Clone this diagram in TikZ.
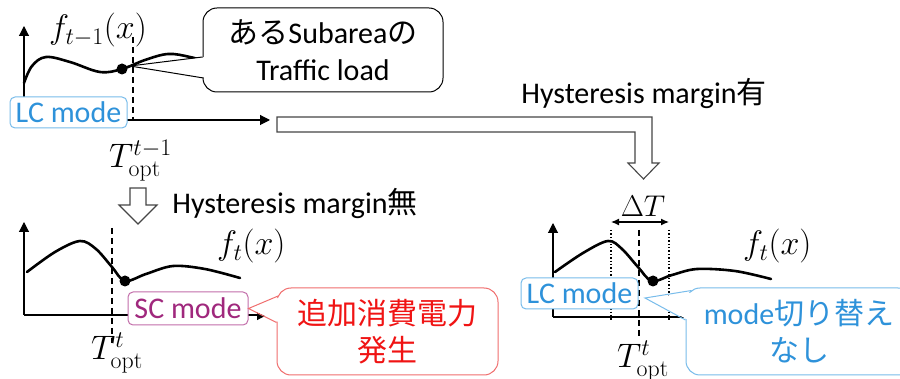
\RequirePackage{fix-cm}
\documentclass[tikz,border=0pt]{standalone}
\usepackage[no-math]{fontspec}
\setmainfont{Carlito}
\newfontfamily\jp{Noto Sans CJK JP}
\usetikzlibrary{arrows.meta,calc}

\definecolor{lcblue}{RGB}{46,146,218}
\definecolor{lcborder}{RGB}{120,188,235}
\definecolor{scpurple}{RGB}{160,40,125}
\definecolor{scborder}{RGB}{195,110,170}
\definecolor{alertred}{RGB}{240,20,20}
\definecolor{alertborder}{RGB}{240,110,110}
\definecolor{blockgray}{RGB}{70,70,70}

\tikzset{
  axis/.style={line width=1.1pt, -{Triangle[length=10pt,width=10pt]}},
  optline/.style={line width=1.4pt, dash pattern=on 6pt off 4pt},
  marginline/.style={line width=1.4pt, dotted},
  load/.style={line width=2.6pt, line cap=round, line join=round},
  optdot/.style={circle, fill=black, inner sep=0pt, minimum size=11pt},
  blockarrow/.style={draw=blockgray, line width=1.1pt, fill=white, line join=miter},
  modebox/.style={draw=#1, line width=1pt, fill=white, rounded corners=5pt,
    inner sep=0pt, font=\fontsize{30}{36}\selectfont},
  callout/.style={draw=#1, line width=1pt, fill=white, rounded corners=14pt,
    inner sep=0pt, align=center, font=\fontsize{30}{37}\selectfont},
  mathlabel/.style={inner sep=0pt, font=\fontsize{34}{40}\selectfont},
  deltalabel/.style={inner sep=0pt, font=\fontsize{30}{36}\selectfont},
  plain/.style={inner sep=0pt, font=\fontsize{30}{36}\selectfont},
}

\begin{document}
\begin{tikzpicture}[x=1pt, y=-1pt]
\clip (0,0) rectangle (900,379);
\fill[white] (0,0) rectangle (900,379);

% ---------- graph at time t-1 ----------
\coordinate (o1) at (24,120);
\coordinate (y1) at (24,26);
\coordinate (x1) at (270,120);
\draw[axis] (o1) -- (y1);
\draw[axis] (o1) -- (x1);
\node[mathlabel, anchor=base] (f1) at (98,39) {$f_{t-1}(x)$};
\coordinate (d1top) at (133,37);
\coordinate (d1bot) at (133,120);
\draw[optline] (d1top) -- (d1bot);
\draw[load] plot[smooth, tension=0.6] coordinates
  {(24,83) (32,66) (46,57) (70,62) (100,72) (122,69) (145,60) (168,54) (190,57) (215,64)};
\node[optdot] (p1) at (122,69) {};
\node[mathlabel, anchor=base west] (T1) at (109,168) {$T_{\mathrm{opt}}^{t-1}$};
\node[modebox=lcborder, text=lcblue, minimum width=117pt, minimum height=31pt]
  (lc1) at (68.5,112.5) {LC mode};

% callout: traffic load of one subarea
\node[callout=black, minimum width=240pt, minimum height=84pt] (tc) at (323,50)
  {{\jp ある}Subarea{\jp の}\\Traffic load};
\coordinate (tctip) at (130,66);
\fill[white] (tctip) -- ($(tc.west)+(3,7)$) -- ($(tc.west)+(3,28)$) -- cycle;
\draw[line width=1pt] ($(tc.west)+(0,7)$) -- (tctip) -- ($(tc.west)+(1,28)$);

% ---------- block arrow: with hysteresis margin ----------
\draw[blockarrow] (277,117) -- (652,117) -- (652,163) -- (659,163) -- (643.5,179)
  -- (628,163) -- (635,163) -- (635,132) -- (277,132) -- cycle;
\node[plain] (hm1) at (644,93) {Hysteresis margin{\jp 有}};

% ---------- block arrow: without hysteresis margin ----------
\draw[blockarrow] (130,188) -- (146,188) -- (146,205) -- (157,205) -- (138,224)
  -- (119,205) -- (130,205) -- cycle;
\node[plain] (hm0) at (295,203) {Hysteresis margin{\jp 無}};

% ---------- graph at time t, no margin ----------
\coordinate (o2) at (24,315);
\coordinate (y2) at (24,222);
\coordinate (x2) at (267,315);
\draw[axis] (o2) -- (y2);
\draw[axis] (o2) -- (x2);
\coordinate (d2top) at (112,228);
\coordinate (d2bot) at (112,343);
\draw[optline] (d2top) -- (d2bot);
\draw[load] plot[smooth, tension=0.55] coordinates
  {(27,272) (55,252) (80,241) (96,249) (112,267) (125,281) (146,274) (173,266) (205,269) (240,278)};
\node[optdot] (p2) at (125,281) {};
\node[mathlabel, anchor=base west] (f2) at (217,255) {$f_{t}(x)$};
\node[mathlabel, anchor=base west] (T2) at (91,360) {$T_{\mathrm{opt}}^{t}$};
\node[modebox=scborder, text=scpurple, minimum width=120pt, minimum height=33pt]
  (sc) at (188,308.5) {SC mode};

% callout: extra power consumption
\node[callout=alertborder, text=alertred, minimum width=221pt, minimum height=87pt]
  (rc) at (387.5,331.5) {\jp 追加消費電力\\\jp 発生};
\coordinate (rctip) at (sc.east);
\fill[white] (rctip) -- ($(rc.west)+(3,-34)$) -- ($(rc.west)+(3,-9)$) -- cycle;
\draw[alertborder, line width=1pt] ($(rc.west)+(1.6,-35.5)$) -- (rctip) -- ($(rc.west)+(0,-9)$);

% ---------- graph at time t, with margin ----------
\coordinate (o3) at (553,317);
\coordinate (y3) at (553,223);
\coordinate (x3) at (700,317);
\draw[axis] (o3) -- (y3);
\draw[axis] (o3) -- (x3);
\coordinate (m1top) at (611,230);
\coordinate (m1bot) at (611,320);
\coordinate (m2top) at (669,230);
\coordinate (m2bot) at (669,320);
\draw[marginline] (m1top) -- (m1bot);
\draw[marginline] (m2top) -- (m2bot);
\coordinate (d3top) at (639,230);
\coordinate (d3bot) at (639,336);
\draw[optline] (d3top) -- (d3bot);
\coordinate (dl) at (611,222);
\coordinate (dr) at (669,222);
\draw[line width=1.2pt, {Latex[length=8pt,width=7pt]}-{Latex[length=8pt,width=7pt]}] (dl) -- (dr);
\node[deltalabel, anchor=base] (dT) at (643,217) {$\Delta T$};
\draw[load] plot[smooth, tension=0.55] coordinates
  {(555,272) (583,253) (608,241) (622,249) (638,267) (652,281) (672,275) (697,269) (735,271) (771,279)};
\node[optdot] (p3) at (653,281) {};
\node[mathlabel, anchor=base west] (f3) at (743,255) {$f_{t}(x)$};
\node[mathlabel, anchor=base west] (T3) at (617,368) {$T_{\mathrm{opt}}^{t}$};
\node[modebox=lcborder, text=lcblue, minimum width=117pt, minimum height=31pt]
  (lc3) at (579.5,293.5) {LC mode};

% callout: no mode switching
\node[callout=lcborder, text=lcblue, minimum width=226pt, minimum height=87pt]
  (bc) at (799,331.5) {mode{\jp 切り替え}\\\jp なし};
\coordinate (bctip) at (645,298);
\fill[white] (bctip) -- ($(bc.north west)+(8,5)$) -- ($(bc.west)+(3,-11.5)$) -- cycle;
\draw[lcborder, line width=1pt] ($(bc.north west)+(6,3)$) -- (bctip) -- ($(bc.west)+(0,-11.5)$);
\end{tikzpicture}
\end{document}
